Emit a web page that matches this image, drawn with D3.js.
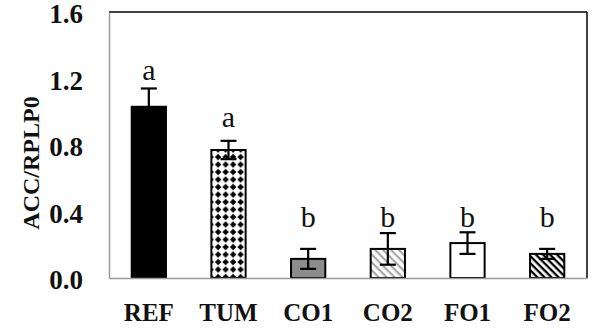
<!DOCTYPE html>
<html>
<head>
<meta charset="utf-8">
<script src="https://cdn.jsdelivr.net/npm/d3@7"></script>
<style>
  html, body { margin: 0; padding: 0; background: #fff; }
  svg { display: block; font-family: "Liberation Serif", "Times New Roman", serif; }
</style>
</head>
<body>
<svg id="chart" width="593" height="330"></svg>
<script>
// Relative ACC expression (normalised to RPLP0) per treatment group
const groups  = ["REF", "TUM", "CO1", "CO2", "FO1", "FO2"];
const means   = [1.03, 0.77, 0.115, 0.175, 0.21, 0.145];
const errors  = [0.11, 0.055, 0.06, 0.095, 0.065, 0.03];
const letters = ["a", "a", "b", "b", "b", "b"];
const yTicks  = [0, 0.4, 0.8, 1.2, 1.6];
const fills   = ["#000", "url(#dots)", "#8c8c8c", "url(#grayStripes)", "#fff", "url(#blackStripes)"];

const data = groups.map((g, i) => ({ group: g, mean: means[i], err: errors[i], letter: letters[i], fill: fills[i] }));

const W = 593, H = 330;
const margin = { top: 12, right: 6, bottom: 52, left: 109 };
const svg = d3.select("#chart");

const x = d3.scaleBand().domain(groups).range([margin.left, W - margin.right]).paddingInner(0.57).paddingOuter(0.285);
const y = d3.scaleLinear().domain([0, 1.6]).range([H - margin.bottom, margin.top]);

// Fill patterns
const defs = svg.append("defs");
const dots = defs.append("pattern").attr("id", "dots")
  .attr("patternUnits", "userSpaceOnUse").attr("width", 7.5).attr("height", 7.5)
  .attr("x", x("TUM") + 3).attr("y", y(means[1]) + 3.3);
dots.append("rect").attr("width", 7.5).attr("height", 7.5).attr("fill", "#fff");
dots.append("path").attr("d", "M3.75,0.5 Q5.2,2.3 7.0,3.75 Q5.2,5.2 3.75,7.0 Q2.3,5.2 0.5,3.75 Q2.3,2.3 3.75,0.5 Z").attr("fill", "#000");

function stripes(id, color, period, thick) {
  const p = defs.append("pattern").attr("id", id)
    .attr("patternUnits", "userSpaceOnUse").attr("width", period).attr("height", period)
    .attr("patternTransform", "rotate(45)");
  p.append("rect").attr("width", period).attr("height", period).attr("fill", "#fff");
  p.append("rect").attr("width", period).attr("height", thick).attr("fill", color);
}
stripes("grayStripes", "#a8a8a8", 5.6, 2.2);
stripes("blackStripes", "#000", 5.0, 2.3);

// Plot frame: black top/right border, grey value and category axes
svg.append("line").attr("x1", x.range()[0]).attr("x2", x.range()[1]).attr("y1", y(1.6)).attr("y2", y(1.6))
  .attr("stroke", "#000").attr("stroke-width", 1.5);
svg.append("line").attr("x1", x.range()[1]).attr("x2", x.range()[1]).attr("y1", y(1.6)).attr("y2", y(0))
  .attr("stroke", "#000").attr("stroke-width", 1.5);

const yAxis = svg.append("g").attr("transform", `translate(${margin.left},0)`)
  .call(d3.axisLeft(y).tickValues(yTicks).tickFormat(d3.format(".1f")).tickSize(0).tickPadding(26));
yAxis.select(".domain").attr("stroke", "#9a9a9a").attr("stroke-width", 1.5);
yAxis.selectAll("text").attr("font-family", "Liberation Serif, Times New Roman, serif")
  .attr("font-size", 27).attr("font-weight", "bold").attr("fill", "#111").attr("dy", "0.4em");

// Bars
svg.append("g").selectAll("rect").data(data).join("rect")
  .attr("x", d => x(d.group)).attr("width", x.bandwidth())
  .attr("y", d => y(d.mean)).attr("height", d => y(0) - y(d.mean))
  .attr("fill", d => d.fill).attr("stroke", "#000").attr("stroke-width", 2);

const xAxis = svg.append("g").attr("transform", `translate(0,${y(0)})`)
  .call(d3.axisBottom(x).tickSize(0).tickPadding(25));
xAxis.select(".domain").attr("stroke", "#9a9a9a").attr("stroke-width", 1.5);
xAxis.selectAll("text").attr("font-family", "Liberation Serif, Times New Roman, serif")
  .attr("font-size", 25).attr("font-weight", "bold").attr("fill", "#111");

// Error bars (mean ± SE)
const eb = svg.append("g").attr("stroke", "#000").attr("stroke-width", 2.2);
data.forEach(d => {
  const cx = x(d.group) + x.bandwidth() / 2;
  eb.append("line").attr("x1", cx).attr("x2", cx).attr("y1", y(d.mean - d.err)).attr("y2", y(d.mean + d.err));
  eb.append("line").attr("x1", cx - 8).attr("x2", cx + 8).attr("y1", y(d.mean + d.err)).attr("y2", y(d.mean + d.err));
  eb.append("line").attr("x1", cx - 8).attr("x2", cx + 8).attr("y1", y(d.mean - d.err)).attr("y2", y(d.mean - d.err));
});

// Significance letters; the "b" group shares one line above its tallest error bar
const bTop = d3.max(data.filter(d => d.letter === "b"), d => d.mean + d.err);
svg.append("g").selectAll("text").data(data).join("text")
  .attr("x", d => x(d.group) + x.bandwidth() / 2)
  .attr("y", d => d.letter === "b" ? y(bTop) - 5 : y(d.mean + d.err) - (d.group === "REF" ? 8 : 14))
  .attr("text-anchor", "middle").attr("font-size", 30).attr("fill", "#111")
  .text(d => d.letter);

// Y axis title
svg.append("text")
  .attr("transform", `translate(39,163) rotate(-90)`)
  .attr("text-anchor", "middle").attr("font-size", 24).attr("font-weight", "bold").attr("fill", "#111")
  .text("ACC/RPLP0");
</script>
</body>
</html>
